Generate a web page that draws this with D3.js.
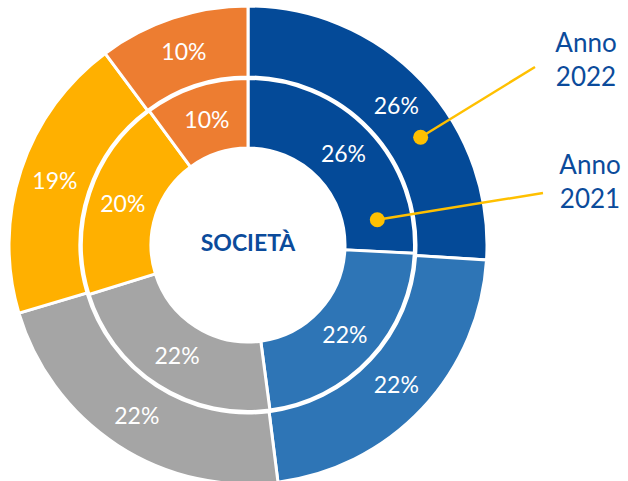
<!DOCTYPE html>
<html>
<head>
<meta charset="utf-8">
<style>
  html, body { margin: 0; padding: 0; background: #fff; }
  svg { display: block; }
  text { font-family: Lato, "Noto Sans", sans-serif; }
</style>
</head>
<body>
<svg width="628" height="481"></svg>
<script src="https://cdn.jsdelivr.net/npm/d3@7"></script>
<script>
    const width = 628;
    const height = 481;

    // categories (clockwise from 12 o'clock)
    const categories = ["A", "B", "C", "D", "E"];
    const colors = ["#044a98", "#2e75b6", "#a5a5a5", "#ffb000", "#ed7d31"];

    // series values (%)
    const anno2022 = [26.0, 22.0, 22.4, 19.4, 10.2];
    const anno2021 = [25.8, 22.1, 22.3, 19.7, 10.1];

    const seriesNames = ["Anno 2022", "Anno 2021"];

    const cx = 248, cy = 245;
    const rings = [
        { name: seriesNames[0], values: anno2022, r0: 168, r1: 239 },
        { name: seriesNames[1], values: anno2021, r0: 97, r1: 166.5 }
    ];

    const svg = d3.select("svg")
        .attr("viewBox", [0, 0, width, height]);

    const g = svg.append("g").attr("transform", `translate(${cx},${cy})`);

    const pie = d3.pie().sort(null).value(d => d);
    const fmt = d3.format(".0%");

    rings.forEach(ring => {
        const total = d3.sum(ring.values);
        const arcs = pie(ring.values);
        const arc = d3.arc().innerRadius(ring.r0).outerRadius(ring.r1);
        ring.arcs = arcs;
        ring.arc = arc;

        g.append("g")
            .selectAll("path")
            .data(arcs)
            .join("path")
            .attr("d", arc)
            .attr("fill", (d, i) => colors[i])
            .attr("stroke", "#fff")
            .attr("stroke-width", 3);

        g.append("g")
            .selectAll("text")
            .data(arcs)
            .join("text")
            .attr("transform", d => `translate(${arc.centroid(d)})`)
            .attr("text-anchor", "middle")
            .attr("dy", "0.36em")
            .attr("fill", "#fff")
            .attr("font-size", 23)
            .text(d => fmt(d.value / total));
    });

    // centre title
    g.append("text")
        .attr("text-anchor", "middle")
        .attr("dy", "0.36em")
        .attr("y", -2)
        .attr("fill", "#0b4b9b")
        .attr("font-weight", "bold")
        .attr("font-size", 23)
        .text("SOCIETÀ");

    // callouts: point inside the first slice of each ring, line to label
    const callouts = [
        { ring: rings[0], t: 0.62, end: [535, 67], label: [586, 52] },
        { ring: rings[1], t: 0.85, end: [543, 193], label: [590, 174] }
    ];

    callouts.forEach(c => {
        const a = c.ring.arcs[0];
        const ang = a.startAngle + (a.endAngle - a.startAngle) * c.t;
        const r = (c.ring.r0 + c.ring.r1) / 2;
        const px = cx + r * Math.sin(ang);
        const py = cy - r * Math.cos(ang);

        svg.append("line")
            .attr("x1", px).attr("y1", py)
            .attr("x2", c.end[0]).attr("y2", c.end[1])
            .attr("stroke", "#ffc000")
            .attr("stroke-width", 2.5);

        svg.append("circle")
            .attr("cx", px).attr("cy", py)
            .attr("r", 7.5)
            .attr("fill", "#ffc000");

        const words = c.ring.name.split(" ");
        const t = svg.append("text")
            .attr("x", c.label[0]).attr("y", c.label[1])
            .attr("text-anchor", "middle")
            .attr("fill", "#0b4b9b")
            .attr("font-size", 26);
        words.forEach((w, i) => {
            t.append("tspan")
                .attr("x", c.label[0])
                .attr("dy", i === 0 ? 0 : 34)
                .text(w);
        });
    });
</script>
</body>
</html>
